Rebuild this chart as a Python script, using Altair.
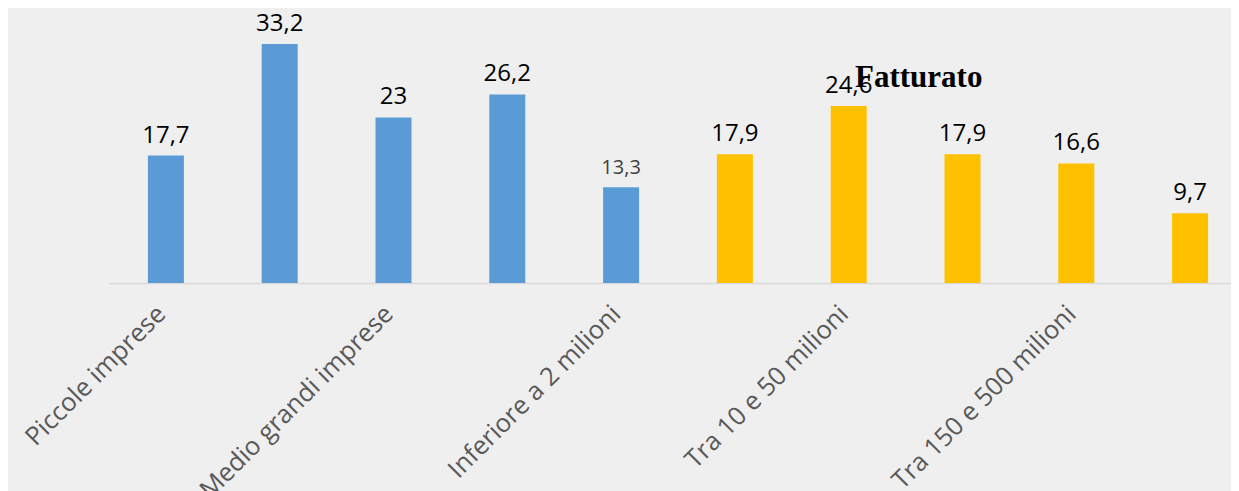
import altair as alt
import pandas as pd

categories = [
    "Piccole imprese", "Medie imprese", "Medio grandi imprese", "Grandi imprese",
    "Inferiore a 2 milioni", "Tra 2 e 10 milioni", "Tra 10 e 50 milioni",
    "Tra 50 e 150 milioni", "Tra 150 e 500 milioni", "Oltre 500 milioni",
]
values = [17.7, 33.2, 23, 26.2, 13.3, 17.9, 24.6, 17.9, 16.6, 9.7]
groups = ["Dimensione"] * 5 + ["Fatturato"] * 5
shown_labels = [
    "Piccole imprese", "Medio grandi imprese", "Inferiore a 2 milioni",
    "Tra 10 e 50 milioni", "Tra 150 e 500 milioni",
]


def fmt(v):
    if float(v).is_integer():
        return str(int(v))
    return str(v).replace(".", ",")


df = pd.DataFrame({
    "cat": categories,
    "val": values,
    "grp": groups,
    "lab": [fmt(v) for v in values],
})

shown_js = "[" + ",".join("'" + s + "'" for s in shown_labels) + "]"

x = alt.X(
    "cat:N",
    sort=categories,
    title=None,
    scale=alt.Scale(range=[101, 1239], paddingInner=0, paddingOuter=0),
    axis=alt.Axis(
        labelAngle=-45,
        labelAlign="right",
        labelBaseline="top",
        labelPadding=18,
        labelOffset=-13,
        labelFont="Open Sans",
        labelFontSize=25.5,
        labelColor="#595959",
        labelExpr="indexof(" + shown_js + ", datum.value) >= 0 ? datum.label : ''",
        labelOverlap=False,
        labelLimit=0,
        ticks=False,
        tickSize=0,
        domainColor="#d9d9d9",
        domainWidth=1.5,
        grid=False,
    ),
)
y = alt.Y("val:Q", scale=alt.Scale(domain=[0, 38.2], nice=False), axis=None, title=None)

base = alt.Chart(df)

bars = base.mark_bar(size=36).encode(
    x=x,
    y=y,
    color=alt.Color(
        "grp:N",
        scale=alt.Scale(domain=["Dimensione", "Fatturato"], range=["#5b9bd5", "#ffc000"]),
        legend=None,
    ),
)

labels = base.mark_text(
    baseline="alphabetic", align="center", dy=-13, font="Open Sans"
).encode(
    x=alt.X("cat:N", sort=categories),
    y="val:Q",
    text="lab:N",
    size=alt.condition(alt.datum.cat == "Inferiore a 2 milioni", alt.value(20), alt.value(24)),
    color=alt.condition(alt.datum.cat == "Inferiore a 2 milioni", alt.value("#404040"), alt.value("#000000")),
)

chart = (
    alt.layer(bars, labels)
    .properties(
        width=1223,
        height=275,
        background="#efefef",
        padding={"left": 0, "top": 0, "right": 0, "bottom": 208},
        autosize=alt.AutoSizeParams(type="none"),
        title=alt.TitleParams(
            text="Fatturato",
            font="Liberation Serif",
            fontSize=31,
            fontWeight="bold",
            color="#000000",
            anchor="start",
            frame="group",
            baseline="alphabetic",
            offset=0,
            dx=847,
            dy=110,
        ),
    )
    .configure_view(stroke=None)
)

chart.save("out.html", embed_options={"renderer": "svg", "actions": False})
